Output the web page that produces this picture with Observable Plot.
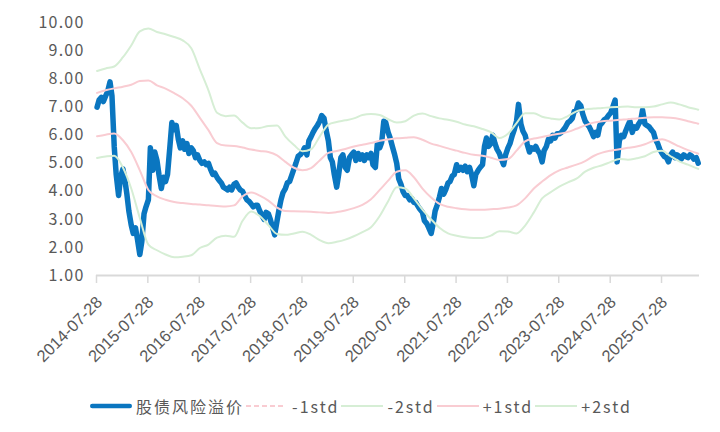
<!DOCTYPE html>
<html>
<head>
<meta charset="utf-8">
<script src="https://cdn.jsdelivr.net/npm/d3@7"></script>
<script src="https://cdn.jsdelivr.net/npm/@observablehq/plot@0.6"></script>
<style>
  body { margin: 0; background: #fff; font-family: "Noto Sans CJK SC", sans-serif; }
  #chart { width: 720px; }
  .legend { display: flex; justify-content: center; align-items: center; height: 52px;
            font-size: 16px; letter-spacing: 2px; color: #595959; padding-left: 4px; }
  .item { display: flex; align-items: center; margin-right: 2px; }
  .item svg { margin-right: 4px; }
</style>
</head>
<body>
<div id="chart"></div>
<div class="legend" id="legend"></div>
<script>
// Equity-bond risk premium, sampled on the 1st and 15th of each month (Aug 2014 – Apr 2026)
const erpValues = [
  // 2014-08 .. 2015-07
  7.0, 7.25, 7.35, 7.2, 7.4, 7.55, 7.9, 7.4, 5.6, 4.6, 3.85, 4.5, 4.8, 4.4, 3.9, 3.3, 2.8, 2.5, 2.7, 2.3, 1.75, 2.2, 3.2, 3.45,
  // 2015-08 .. 2016-07
  3.7, 5.55, 4.75, 5.4, 5.1, 4.6, 4.1, 4.5, 4.35, 4.6, 5.6, 6.45, 6.2, 6.35, 5.85, 5.55, 5.8, 5.5, 5.7, 5.35, 5.55, 5.45, 5.2, 5.3,
  // 2016-08 .. 2017-07
  5.1, 5.0, 5.05, 4.95, 5.0, 4.8, 4.6, 4.65, 4.5, 4.4, 4.3, 4.15, 4.1, 4.05, 4.15, 4.05, 4.25, 4.3, 4.15, 4.05, 4.0, 3.85, 3.7, 3.65,
  // 2017-08 .. 2018-07
  3.55, 3.45, 3.5, 3.5, 3.3, 3.15, 3.0, 3.25, 3.2, 3.0, 2.7, 2.45, 2.95, 3.35, 3.7, 3.95, 4.1, 4.3, 4.35, 4.55, 4.8, 5.0, 5.25, 5.3,
  // 2018-08 .. 2019-07
  5.4, 5.55, 5.3, 5.8, 5.95, 6.1, 6.25, 6.35, 6.5, 6.7, 6.6, 6.2, 5.8, 5.2, 5.05, 4.6, 4.15, 4.6, 5.2, 5.3, 4.85, 4.75, 5.2, 5.3,
  // 2019-08 .. 2020-07
  5.4, 5.1, 5.35, 5.15, 5.3, 5.1, 5.3, 5.2, 5.35, 4.95, 4.85, 5.7, 5.55, 5.75, 6.5, 6.45, 6.1, 5.9, 5.6, 5.35, 5.0, 4.45, 4.25, 4.0,
  // 2020-08 .. 2021-07
  3.85, 3.85, 3.7, 3.75, 3.6, 3.6, 3.45, 3.35, 3.25, 2.95, 2.85, 2.7, 2.5, 2.85, 3.3, 3.5, 3.8, 4.1, 3.9, 4.05, 4.3, 4.35, 4.55, 4.6,
  // 2021-08 .. 2022-07
  4.95, 4.75, 4.85, 4.75, 4.9, 4.7, 4.85, 4.6, 4.2, 4.6, 4.75, 4.85, 4.95, 5.6, 5.9, 5.6, 5.7, 6.0, 5.7, 5.5, 5.35, 5.15, 4.95, 5.3,
  // 2022-08 .. 2023-07
  5.55, 5.7, 6.0, 6.2, 6.5, 7.1, 6.4, 6.15, 6.0, 5.7, 5.4, 5.55, 5.5, 5.6, 5.45, 5.35, 5.05, 5.45, 5.6, 5.85, 5.8, 6.0, 5.9, 6.05,
  // 2023-08 .. 2024-07
  6.05, 6.1, 6.2, 6.3, 6.45, 6.5, 6.6, 6.85, 6.9, 7.15, 7.05, 6.75, 6.5, 6.4, 6.3, 6.15, 5.95, 6.1, 6.0, 6.35, 6.45, 6.55, 6.6, 6.7,
  // 2024-08 .. 2025-07
  6.8, 7.0, 7.25, 5.05, 5.8, 6.0, 5.95, 6.15, 6.35, 6.5, 6.1, 6.3, 6.25, 6.4, 6.5, 6.9, 6.4, 6.35, 6.3, 6.2, 6.1, 5.85, 5.7, 5.5,
  // 2025-08 .. 2026-04
  5.35, 5.25, 5.2, 5.05, 5.3, 5.4, 5.2, 5.3, 5.25, 5.15, 5.3, 5.25, 5.2, 5.3, 5.25, 5.15, 5.2, 5.0
];

// Rolling standard-deviation bands, every other month from Aug 2014, closing on 2026-04-15
const plus2 = [8.29, 8.38, 8.45, 8.78, 9.2, 9.7, 9.8, 9.68, 9.6, 9.5,
  9.38, 9.1, 8.35, 7.6, 6.8, 6.68, 6.7, 6.45, 6.25, 6.26,
  6.33, 6.35, 5.95, 5.65, 5.43, 5.5, 5.95, 6.38, 6.47, 6.53,
  6.6, 6.72, 6.76, 6.72, 6.57, 6.45, 6.5, 6.7, 6.77, 6.68,
  6.6, 6.55, 6.48, 6.38, 6.32, 6.22, 6.11, 5.9, 6.05, 6.43,
  6.78, 6.78, 6.66, 6.6, 6.56, 6.68, 6.85, 6.92, 6.95, 6.97,
  7.0, 7.01, 7.02, 7.0, 7.0, 7.02, 7.1, 7.17, 7.1, 7.0,
  6.93, 6.91];
const plus1 = [7.51, 7.6, 7.67, 7.73, 7.8, 7.93, 7.95, 7.78, 7.66, 7.5,
  7.32, 7.05, 6.62, 6.18, 5.72, 5.63, 5.62, 5.56, 5.49, 5.44,
  5.4, 5.28, 5.05, 4.84, 4.75, 4.83, 5.1, 5.37, 5.44, 5.51,
  5.6, 5.66, 5.72, 5.8, 5.85, 5.89, 5.91, 5.93, 5.84, 5.7,
  5.62, 5.53, 5.45, 5.37, 5.3, 5.27, 5.2, 5.12, 5.15, 5.45,
  5.78, 5.88, 5.94, 6.0, 6.05, 6.12, 6.23, 6.35, 6.45, 6.5,
  6.52, 6.55, 6.57, 6.6, 6.62, 6.64, 6.64, 6.62, 6.58, 6.5,
  6.43, 6.41];
const minus1 = [5.96, 6.02, 6.06, 5.82, 5.4, 4.75, 4.05, 3.82, 3.7, 3.62,
  3.58, 3.55, 3.53, 3.5, 3.48, 3.46, 3.5, 3.82, 3.96, 3.85,
  3.67, 3.42, 3.3, 3.29, 3.28, 3.27, 3.25, 3.23, 3.26, 3.32,
  3.4, 3.52, 3.72, 4.05, 4.38, 4.7, 4.75, 4.5, 4.1, 3.78,
  3.55, 3.45, 3.4, 3.36, 3.34, 3.34, 3.36, 3.38, 3.42, 3.5,
  3.75, 4.1, 4.35, 4.58, 4.75, 4.85, 4.95, 5.08, 5.26, 5.38,
  5.45, 5.5, 5.55, 5.6, 5.68, 5.8, 5.86, 5.75, 5.6, 5.47,
  5.37, 5.34];
const minus2 = [5.19, 5.24, 5.27, 4.85, 4.1, 3.05, 2.1, 1.9, 1.75, 1.65,
  1.67, 1.72, 1.98, 2.1, 2.35, 2.42, 2.38, 2.95, 3.28, 3.12,
  2.8, 2.48, 2.45, 2.5, 2.56, 2.45, 2.26, 2.15, 2.2, 2.28,
  2.4, 2.55, 2.72, 3.12, 3.65, 4.15, 4.1, 3.75, 3.35, 3.0,
  2.7, 2.5, 2.42, 2.36, 2.34, 2.34, 2.42, 2.58, 2.57, 2.5,
  2.78, 3.25, 3.75, 3.97, 4.17, 4.32, 4.45, 4.7, 4.84, 4.93,
  5.05, 5.15, 5.13, 5.18, 5.25, 5.4, 5.45, 5.25, 5.07, 4.95,
  4.83, 4.8];

const xTickLabels = ["2014-07-28", "2015-07-28", "2016-07-28", "2017-07-28", "2018-07-28", "2019-07-28",
  "2020-07-28", "2021-07-28", "2022-07-28", "2023-07-28", "2024-07-28", "2025-07-28"];
const yTicks = [1, 2, 3, 4, 5, 6, 7, 8, 9, 10];

const seriesNames = ["股债风险溢价", "-1std", "-2std", "+1std", "+2std"];
const colors = { erp: "#0a76c0", pink: "#f9ccd2", green: "#d6eed5" };

// Sampling grids
const months = d3.utcMonths(new Date("2014-08-01"), new Date("2026-04-02"));
const erpDates = months.flatMap(d => [d, d3.utcDay.offset(d, 14)]);
const bandDates = [...months.filter((d, i) => i % 2 === 0), new Date("2026-04-15")];

const erp = erpDates.map((date, i) => ({ date, value: erpValues[i] }));
const bands = bandDates.map((date, i) => ({ date, p2: plus2[i], p1: plus1[i], m1: minus1[i], m2: minus2[i] }));
const xTicks = xTickLabels.map(s => new Date(s));

const chart = Plot.plot({
  width: 720,
  height: 380,
  marginTop: 22.5,
  marginLeft: 96,
  marginRight: 21,
  marginBottom: 105,
  x: { type: "utc", domain: [new Date("2014-07-28"), new Date("2026-04-24")] },
  y: { domain: [1, 10] },
  style: { background: "#fff", color: "#595959", fontFamily: "\"Noto Sans CJK SC\", sans-serif" },
  marks: [
    Plot.axisY({ ticks: yTicks, tickFormat: d3.format(".2f"), tickSize: 0, tickPadding: 12, fontSize: 16, label: null, fill: "#595959" }),
    Plot.axisX({ ticks: xTicks, tickSize: 8, tickFormat: () => "", stroke: "#d9d9d9", strokeWidth: 1.5, label: null }),
    Plot.ruleY([1], { stroke: "#d9d9d9", strokeWidth: 2 }),
    Plot.text(xTicks, {
      x: d => d, y: 1, text: d3.utcFormat("%Y-%m-%d"), rotate: -45, textAnchor: "end",
      dx: 3, dy: 24, fontSize: 16.5, fill: "#595959", fontFamily: "Liberation Sans"
    }),
    Plot.line(erp, { x: "date", y: "value", stroke: colors.erp, strokeWidth: 5.5, strokeLinejoin: "round", strokeLinecap: "round" }),
    Plot.line(bands, { x: "date", y: "m1", stroke: colors.pink, strokeWidth: 2, curve: "monotone-x" }),
    Plot.line(bands, { x: "date", y: "m2", stroke: colors.green, strokeWidth: 2, curve: "monotone-x" }),
    Plot.line(bands, { x: "date", y: "p1", stroke: colors.pink, strokeWidth: 2, curve: "monotone-x" }),
    Plot.line(bands, { x: "date", y: "p2", stroke: colors.green, strokeWidth: 2, curve: "monotone-x" })
  ]
});
chart.querySelectorAll('[aria-label="y-axis tick label"] text').forEach(t => t.setAttribute("letter-spacing", "1.2"));
chart.querySelectorAll('g[aria-label="text"] text').forEach(t => { t.style.fontFamily = '"Liberation Sans", Arial, sans-serif'; });
document.getElementById("chart").append(chart);

// Legend
const swatches = [
  { stroke: colors.erp, width: 4.5, dash: null, cap: "round", x1: 2.25, x2: 39.75 },
  { stroke: colors.pink, width: 2, dash: "5 3", cap: "butt", x1: 0, x2: 40 },
  { stroke: colors.green, width: 2, dash: null, cap: "butt", x1: 0, x2: 42 },
  { stroke: colors.pink, width: 2, dash: null, cap: "butt", x1: 0, x2: 42 },
  { stroke: colors.green, width: 2, dash: null, cap: "butt", x1: 0, x2: 42 }
];
const legend = d3.select("#legend");
seriesNames.forEach((name, i) => {
  const s = swatches[i];
  const item = legend.append("div").attr("class", "item");
  const svg = item.append("svg").attr("width", 42).attr("height", 10);
  svg.append("line").attr("x1", s.x1).attr("x2", s.x2).attr("y1", 5).attr("y2", 5)
    .attr("stroke", s.stroke).attr("stroke-width", s.width).attr("stroke-linecap", s.cap)
    .attr("stroke-dasharray", s.dash);
  item.append("span").text(name);
});
</script>
</body>
</html>
